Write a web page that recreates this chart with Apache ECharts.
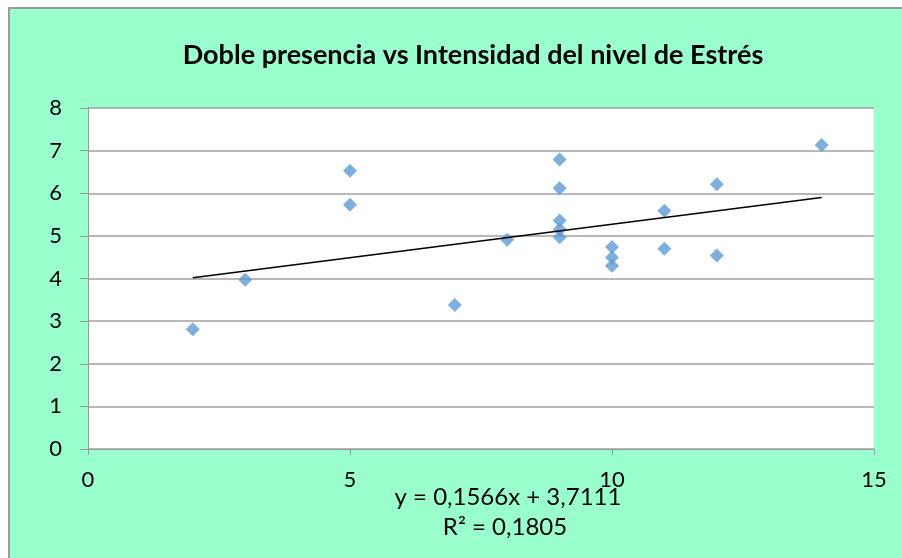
<!DOCTYPE html>
<html>
<head>
<meta charset="utf-8">
<script src="https://cdn.jsdelivr.net/npm/echarts@6/dist/echarts.min.js"></script>
<style>
  html, body { margin: 0; padding: 0; background: #fff; }
  #chart { width: 902px; height: 558px; }
</style>
</head>
<body>
<div id="chart"></div>
<script>
// Doble presencia (x) vs nivel de estrés (y)
const xValues = [2, 3, 5, 5, 7, 8, 9, 9, 9, 9, 9, 10, 10, 10, 11, 11, 12, 12, 14]
const yValues = [2.81, 3.97, 6.53, 5.73, 3.38, 4.91, 6.79, 6.12, 5.36, 5.15, 4.97, 4.74, 4.49, 4.30, 5.59, 4.70, 6.21, 4.54, 7.13]

// trend line end points as drawn
const trendX = [2, 14]
const trendY = [4.02, 5.90]

const titleText = 'Doble presencia vs Intensidad del nivel de Estrés'
const equationText = 'y = 0,1566x + 3,7111'
const r2Text = 'R² = 0,1805'

const FONT = 'Lato, "Open Sans", sans-serif'

const chartInstance = echarts.init(document.getElementById('chart'))

const points = xValues.map((x, i) => [x, yValues[i]])
const trend = trendX.map((x, i) => [x, trendY[i]])

const option = {
  backgroundColor: '#ffffff',
  animation: false,
  textStyle: { fontFamily: FONT },
  graphic: [
    {
      type: 'rect',
      left: 8,
      top: 7,
      z: -10,
      shape: { width: 1000, height: 1000 },
      style: { fill: '#99FFCC', stroke: '#9a9a9a', lineWidth: 2 }
    },
    {
      type: 'text',
      x: 473,
      y: 55,
      style: {
        text: titleText,
        fill: '#000',
        font: 'bold 27px ' + FONT,
        textAlign: 'center',
        textVerticalAlign: 'middle'
      }
    },
    {
      type: 'text',
      x: 508,
      y: 497,
      z: 10,
      style: {
        text: equationText,
        fill: '#000',
        font: '24px ' + FONT,
        textAlign: 'center',
        textVerticalAlign: 'middle'
      }
    },
    {
      type: 'text',
      x: 505,
      y: 527,
      z: 10,
      style: {
        text: r2Text,
        fill: '#000',
        font: '24px ' + FONT,
        textAlign: 'center',
        textVerticalAlign: 'middle'
      }
    }
  ],
  grid: {
    left: 88,
    top: 108,
    right: 28,
    bottom: 109,
    show: true,
    backgroundColor: '#ffffff',
    borderWidth: 0
  },
  xAxis: {
    type: 'value',
    min: 0,
    max: 15,
    interval: 5,
    axisLine: { show: true, onZero: false, lineStyle: { color: '#9a9a9a', width: 1 } },
    axisTick: { show: true, length: 6, lineStyle: { color: '#9a9a9a' } },
    splitLine: { show: false },
    axisLabel: { color: '#000', fontSize: 22, margin: 20, fontFamily: FONT }
  },
  yAxis: {
    type: 'value',
    min: 0,
    max: 8,
    interval: 1,
    axisLine: { show: true, onZero: false, lineStyle: { color: '#9a9a9a', width: 1 } },
    axisTick: { show: true, length: 8, lineStyle: { color: '#9a9a9a' } },
    splitLine: { show: true, lineStyle: { color: '#a0a0a0', width: 1.5 } },
    axisLabel: { color: '#000', fontSize: 22, margin: 26, fontFamily: FONT }
  },
  series: [
    {
      name: 'Estrés',
      type: 'scatter',
      symbol: 'diamond',
      symbolSize: 14,
      itemStyle: { color: '#5B9BD5' },
      data: points,
      z: 3
    },
    {
      name: 'Tendencia',
      type: 'line',
      symbol: 'none',
      lineStyle: { color: '#000', width: 1.5 },
      data: trend,
      z: 4
    }
  ]
}

chartInstance.setOption(option)
</script>
</body>
</html>
